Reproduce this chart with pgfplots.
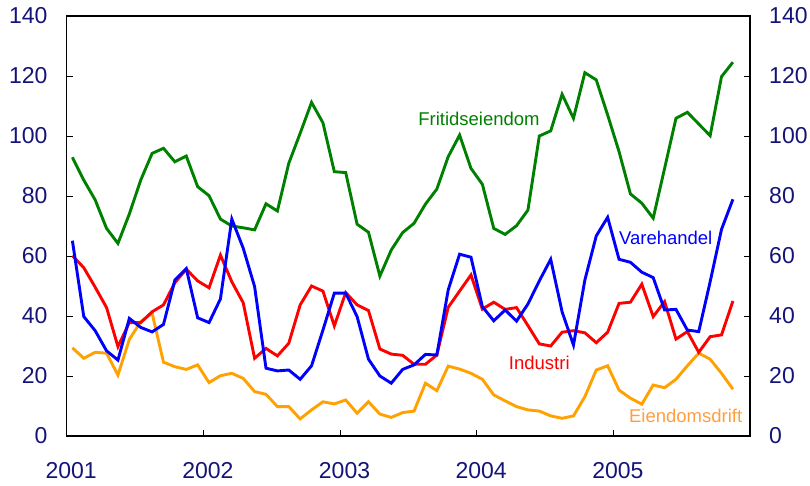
\documentclass[border=0pt]{standalone}
\usepackage{pgfplots}
\pgfplotsset{compat=1.18}
\usepackage{pgfplotstable}
\usepackage{fontspec}
\setmainfont{Liberation Sans}
\definecolor{navy}{rgb}{0.08,0.08,0.47}
\definecolor{cgreen}{rgb}{0,0.5,0}
\definecolor{cblue}{rgb}{0,0,1}
\definecolor{cred}{rgb}{1,0,0}
\definecolor{corange}{rgb}{1,0.63,0}
\definecolor{corangetext}{rgb}{1,0.62,0.25}
\pgfplotstableread{
x g b r o
0.5 92.9 65.1 60.1 29.4
1.5 85.3 39.8 56.1 25.9
2.5 78.7 35.1 49.6 27.9
3.5 69.2 28.4 42.8 27.6
4.5 64.2 25.3 29.8 20.3
5.5 74.0 39.2 37.8 32.2
6.5 85.3 36.2 37.8 38.1
7.5 94.2 34.7 41.4 40.9
8.5 95.9 37.2 43.7 24.6
9.5 91.4 52.0 51.1 23.1
10.5 93.3 55.8 55.6 22.2
11.5 83.1 39.4 51.7 23.7
12.5 80.1 37.8 49.4 17.8
13.5 72.3 45.7 60.3 20.1
14.5 70.0 72.3 51.4 20.9
15.5 69.4 62.6 44.4 19.2
16.5 68.7 49.8 25.9 14.8
17.5 77.4 22.6 29.2 13.9
18.5 75.0 21.7 26.7 9.8
19.5 90.9 22.0 30.9 9.8
20.5 100.9 18.9 43.7 5.7
21.5 111.2 23.4 50.0 8.7
22.5 104.4 35.3 48.3 11.4
23.5 88.1 47.6 36.7 10.7
24.5 87.8 47.6 47.8 12.0
25.5 70.6 39.8 43.7 7.6
26.5 67.9 25.6 41.8 11.4
27.5 53.3 20.0 29.0 7.3
28.5 62.0 17.6 27.3 6.2
29.5 67.8 22.2 26.9 7.8
30.5 70.9 23.7 23.9 8.3
31.5 77.3 27.2 23.9 17.6
32.5 82.3 27.0 27.0 15.1
33.5 93.1 48.7 42.9 23.3
34.5 100.3 60.6 48.3 22.3
35.5 89.2 59.6 53.7 20.9
36.5 83.9 43.1 42.3 18.9
37.5 69.2 38.4 44.6 13.7
38.5 67.2 42.0 42.2 11.7
39.5 70.1 38.3 42.8 9.8
40.5 75.3 44.0 36.8 8.7
41.5 100.0 51.7 30.7 8.3
42.5 101.7 58.9 30.0 6.7
43.5 113.9 41.4 34.6 5.9
44.5 105.9 30.3 35.1 6.7
45.5 121.1 52.0 34.4 13.1
46.5 118.7 66.7 31.1 22.0
47.5 107.0 72.9 34.6 23.4
48.5 94.8 58.9 44.2 15.3
49.5 80.7 57.9 44.6 12.6
50.5 77.6 54.6 50.6 10.6
51.5 72.6 52.8 39.8 17.0
52.5 89.2 42.0 44.8 16.1
53.5 105.9 42.2 32.3 18.9
54.5 107.9 35.3 34.8 23.4
55.5 104.0 34.8 27.9 27.6
56.5 100.1 51.4 33.1 25.6
57.5 119.8 68.9 33.7 20.9
58.5 124.6 78.9 45.0 15.6
}\datatab
\begin{document}
\begin{tikzpicture}
\useasboundingbox (-66.7pt,-50pt) rectangle (743.3pt,436pt);
\pgfplotsset{
  common/.style={
    scale only axis, width=683.3pt, height=420pt,
    at={(0pt,0pt)}, anchor=south west,
    xmin=0, xmax=60, ymin=0, ymax=140,
    ytick={0,20,...,140},
    tick align=inside,
    major tick length=6pt,
    every tick/.style={black, line width=0.8pt},
    axis line style={black, line width=1.1pt},
    every tick label/.append style={font=\fontsize{23}{23}\selectfont, text=navy},
    /pgf/number format/assume math mode=true,
  }
}
\begin{axis}[common,
  xtick={0,12,24,36,48},
  xticklabels={2001,2002,2003,2004,2005},
  xtick pos=bottom,
  ytick pos=left,
  yticklabel style={anchor=east, inner sep=0pt, xshift=-19pt},
  xticklabel style={anchor=north, inner sep=0pt, yshift=-26.5pt, xshift=4.5pt},
  clip=false,
]
\addplot[cgreen, line width=2.9pt] table[x=x,y=g]{\datatab};
\addplot[corange, line width=2.9pt] table[x=x,y=o]{\datatab};
\addplot[cred, line width=2.9pt] table[x=x,y=r]{\datatab};
\addplot[cblue, line width=2.9pt] table[x=x,y=b]{\datatab};
\node[cgreen, font=\fontsize{18.5}{18.5}\selectfont] at (axis cs:36.2,105.6) {Fritidseiendom};
\node[cblue, font=\fontsize{18.5}{18.5}\selectfont] at (axis cs:52.6,65.9) {Varehandel};
\node[cred, font=\fontsize{18.5}{18.5}\selectfont] at (axis cs:41.5,24.4) {Industri};
\node[corangetext, font=\fontsize{18.5}{18.5}\selectfont] at (axis cs:54.35,6.7) {Eiendomsdrift};
\end{axis}
\begin{axis}[common,
  hide x axis,
  axis y line*=right,
  yticklabel style={anchor=west, inner sep=0pt, xshift=19pt},
]
\end{axis}
\end{tikzpicture}
\end{document}
